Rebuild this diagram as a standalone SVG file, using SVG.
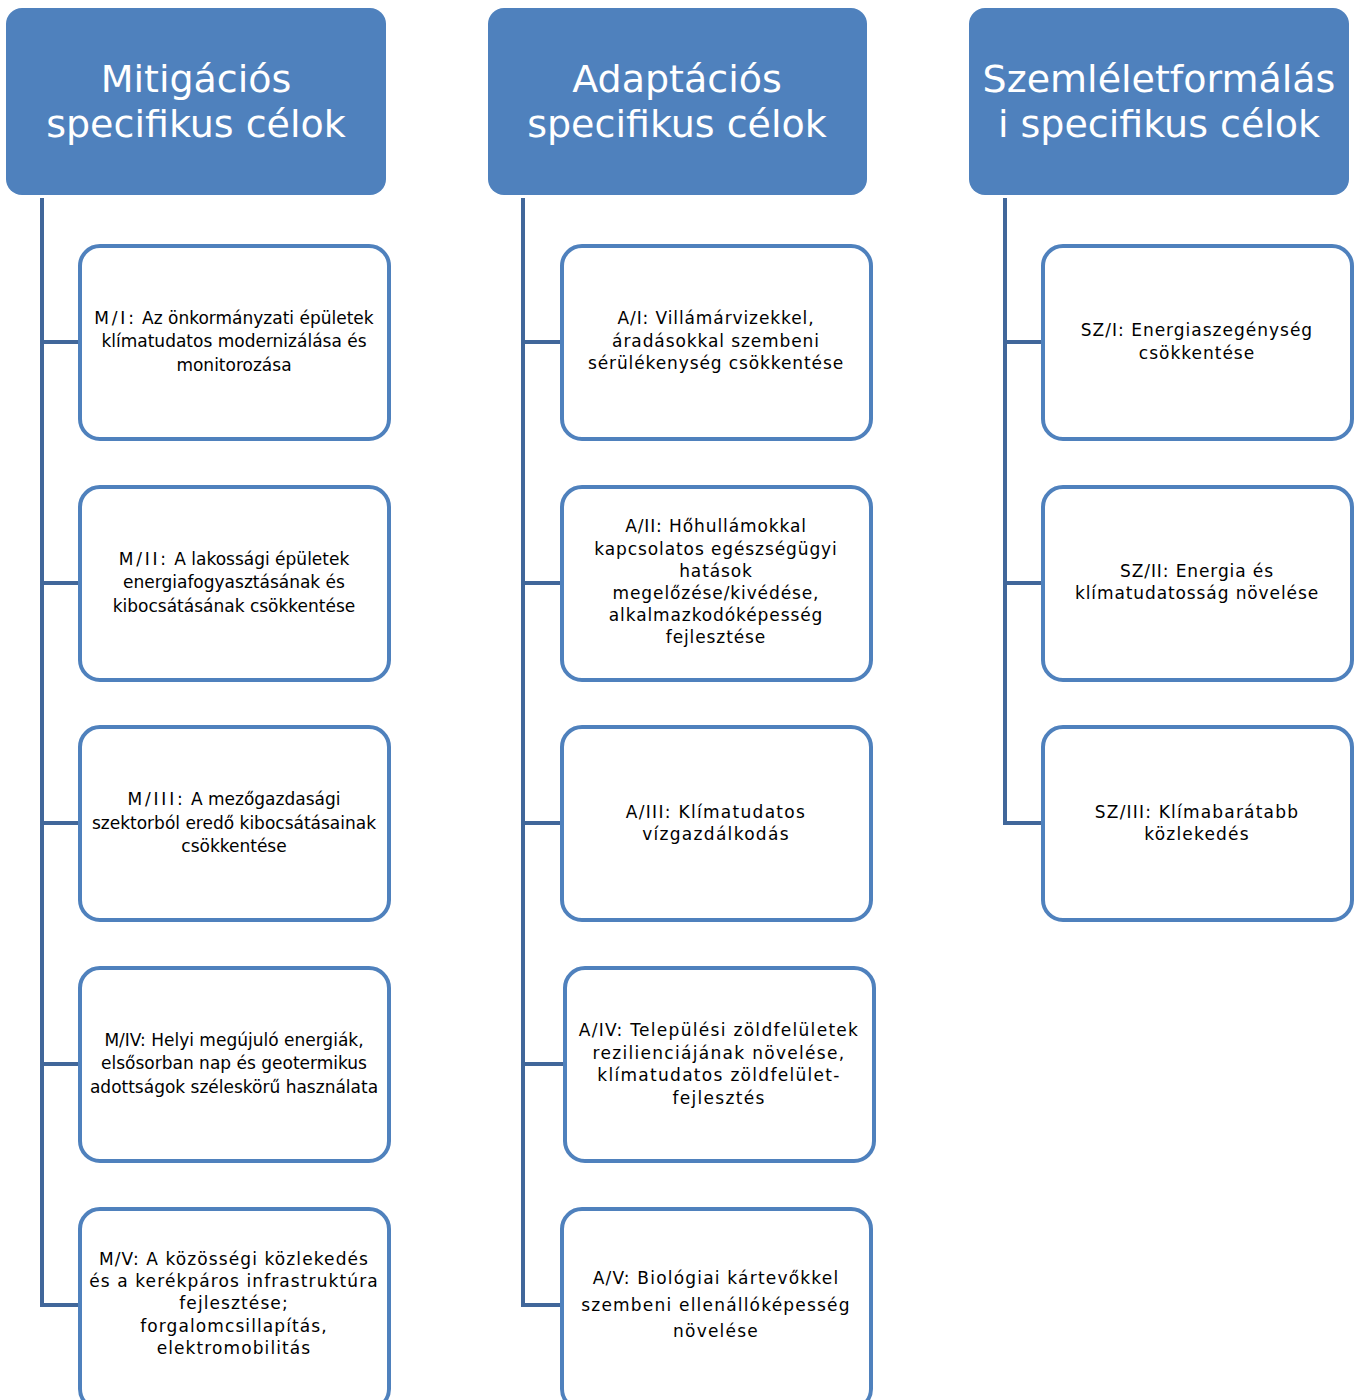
<svg xmlns="http://www.w3.org/2000/svg" width="1362" height="1400" viewBox="0 0 1362 1400">
<style>
.hdr{fill:#4F81BD;}
.hdrt{fill:#FFFFFF;font-family:"DejaVu Sans","Noto Sans",sans-serif;font-size:38px;text-anchor:middle;}
.box{fill:#FFFFFF;stroke:#4F81BD;stroke-width:4;}
.t{fill:#000000;font-family:"DejaVu Sans","Noto Sans",sans-serif;font-size:17px;text-anchor:middle;}
.p{letter-spacing:2.8px;}
.con{fill:none;stroke:#41679A;stroke-width:4;}
</style>
<rect width="1362" height="1400" fill="#FFFFFF"/>
<g id="connectors">
<path class="con" d="M42,198 V1305 H80 M42,342 H80 M42,583 H80 M42,823 H80 M42,1064 H80"/>
<path class="con" d="M523,198 V1305 H562 M523,342 H562 M523,583 H562 M523,823 H562 M523,1064 H565"/>
<path class="con" d="M1005,198 V823 H1043 M1005,342 H1043 M1005,583 H1043"/>
</g>
<g id="h-mit"><rect class="hdr" x="6" y="8" width="380" height="187" rx="16"/>
<text class="hdrt" x="196" y="92">Mitigációs</text><text class="hdrt" x="196" y="137">specifikus célok</text></g>
<g id="h-adapt"><rect class="hdr" x="488" y="8" width="379" height="187" rx="16"/>
<text class="hdrt" x="677" y="92">Adaptációs</text><text class="hdrt" x="677" y="137">specifikus célok</text></g>
<g id="h-szem"><rect class="hdr" x="969" y="8" width="380" height="187" rx="16"/>
<text class="hdrt" x="1159" y="92">Szemléletformálás</text><text class="hdrt" x="1159" y="137">i specifikus célok</text></g>

<g id="m1"><rect class="box" x="80" y="246" width="309" height="193" rx="20"/>
<text class="t" x="234" y="324"><tspan class="p">M/I:</tspan> Az önkormányzati épületek</text><text class="t" x="234" y="347">klímatudatos modernizálása és</text><text class="t" x="234" y="371">monitorozása</text></g>
<g id="m2"><rect class="box" x="80" y="487" width="309" height="193" rx="20"/>
<text class="t" x="234" y="565"><tspan class="p">M/II:</tspan> A lakossági épületek</text><text class="t" x="234" y="588">energiafogyasztásának és</text><text class="t" x="234" y="612">kibocsátásának csökkentése</text></g>
<g id="m3"><rect class="box" x="80" y="727" width="309" height="193" rx="20"/>
<text class="t" x="234" y="805"><tspan class="p">M/III:</tspan> A mezőgazdasági</text><text class="t" x="234" y="829">szektorból eredő kibocsátásainak</text><text class="t" x="234" y="852">csökkentése</text></g>
<g id="m4"><rect class="box" x="80" y="968" width="309" height="193" rx="20"/>
<text class="t" x="234" y="1046">M/IV: Helyi megújuló energiák,</text><text class="t" x="234" y="1069">elsősorban nap és geotermikus</text><text class="t" x="234" y="1093">adottságok széleskörű használata</text></g>
<g id="m5" style="letter-spacing:1.1px"><rect class="box" x="80" y="1209" width="309" height="200" rx="20"/>
<text class="t" x="234" y="1265">M/V: A közösségi közlekedés</text><text class="t" x="234" y="1287">és a kerékpáros infrastruktúra</text><text class="t" x="234" y="1309">fejlesztése;</text><text class="t" x="234" y="1332">forgalomcsillapítás,</text><text class="t" x="234" y="1354">elektromobilitás</text></g>

<g id="a1" style="letter-spacing:0.9px"><rect class="box" x="562" y="246" width="309" height="193" rx="20"/>
<text class="t" x="716" y="324">A/I: Villámárvizekkel,</text><text class="t" x="716" y="347">áradásokkal szembeni</text><text class="t" x="716" y="369">sérülékenység csökkentése</text></g>
<g id="a2" style="letter-spacing:0.9px"><rect class="box" x="562" y="487" width="309" height="193" rx="20"/>
<text class="t" x="716" y="532">A/II: Hőhullámokkal</text><text class="t" x="716" y="555">kapcsolatos egészségügyi</text><text class="t" x="716" y="577">hatások</text><text class="t" x="716" y="599">megelőzése/kivédése,</text><text class="t" x="716" y="621">alkalmazkodóképesség</text><text class="t" x="716" y="643">fejlesztése</text></g>
<g id="a3" style="letter-spacing:1.3px"><rect class="box" x="562" y="727" width="309" height="193" rx="20"/>
<text class="t" x="716" y="818">A/III: Klímatudatos</text><text class="t" x="716" y="840">vízgazdálkodás</text></g>
<g id="a4" style="letter-spacing:1.3px"><rect class="box" x="565" y="968" width="309" height="193" rx="20"/>
<text class="t" x="719" y="1036">A/IV: Települési zöldfelületek</text><text class="t" x="719" y="1059">rezilienciájának növelése,</text><text class="t" x="719" y="1081">klímatudatos zöldfelület-</text><text class="t" x="719" y="1104">fejlesztés</text></g>
<g id="a5" style="letter-spacing:1.2px"><rect class="box" x="562" y="1209" width="309" height="200" rx="20"/>
<text class="t" x="716" y="1284">A/V: Biológiai kártevőkkel</text><text class="t" x="716" y="1311">szembeni ellenállóképesség</text><text class="t" x="716" y="1337">növelése</text></g>

<g id="s1" style="letter-spacing:1px"><rect class="box" x="1043" y="246" width="309" height="193" rx="20"/>
<text class="t" x="1197" y="336">SZ/I: Energiaszegénység</text><text class="t" x="1197" y="359">csökkentése</text></g>
<g id="s2" style="letter-spacing:0.9px"><rect class="box" x="1043" y="487" width="309" height="193" rx="20"/>
<text class="t" x="1197" y="577">SZ/II: Energia és</text><text class="t" x="1197" y="599">klímatudatosság növelése</text></g>
<g id="s3" style="letter-spacing:1.2px"><rect class="box" x="1043" y="727" width="309" height="193" rx="20"/>
<text class="t" x="1197" y="818">SZ/III: Klímabarátabb</text><text class="t" x="1197" y="840">közlekedés</text></g>
</svg>
